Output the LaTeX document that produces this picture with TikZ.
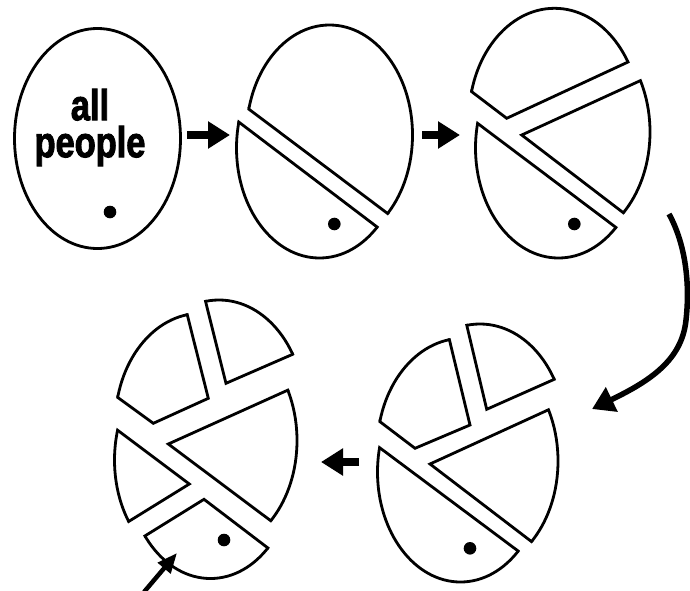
\documentclass[tikz,border=0pt]{standalone}
\usepackage{fontspec}
\setmainfont{Liberation Sans}
\newfontfamily\heavyfont{Liberation Sans Bold}[FakeBold=2.5]
\usetikzlibrary{arrows.meta}
% #1 cx, #2 cy, #3 rx, #4 ry, #5 clip polygon
\newcommand\eggpiece[5]{%
  \begin{scope}
    \clip #5;
    \draw (#1,#2) ellipse [x radius=#3pt, y radius=#4pt];
  \end{scope}
  \begin{scope}
    \clip (#1,#2) ellipse [x radius=#3pt+1.4pt, y radius=#4pt+1.4pt];
    \draw #5;
  \end{scope}}
\tikzset{
  outline/.style={line width=2.8pt, line join=miter},
  fatarrow/.style={line width=7.5pt, -{Triangle[length=22pt,width=26pt]}},
  bentarrow/.style={line width=5.5pt, -{Triangle[length=22pt,width=26pt]}},
  thinarrow/.style={line width=4.5pt, -{Triangle[length=20pt,width=16pt]}},
  dotmark/.style={fill=black},
  bigword/.style={align=center, font=\heavyfont\fontsize{43}{37}\selectfont, inner sep=0pt}
}
\begin{document}
\begin{tikzpicture}[x=1pt, y=-1pt, outline]
\useasboundingbox (0,0) rectangle (690,590);
\fill[white] (0,0) rectangle (690,590);

% ---- egg 1
\draw (97.5,138.5) ellipse [x radius=83pt, y radius=110pt];
\node[bigword] (words) at (90,127.5) {\scalebox{0.8}[1]{all}\\\scalebox{0.8}[1]{people}};
\fill[dotmark] (110,212) circle (6.3pt);

% ---- egg 2
\eggpiece{329.5}{135}{83}{110}{(200,72.4) -- (450,260.4) -- (450,0) -- (200,0) -- cycle}
\eggpiece{319.5}{148}{83}{110}{(200,92.6) -- (450,282.3) -- (450,300) -- (200,300) -- cycle}
\fill[dotmark] (334.3,224) circle (6.3pt);

% ---- egg 3
\eggpiece{558.5}{148}{83}{110}{(440,95.1) -- (690,283.1) -- (690,300) -- (440,300) -- cycle}
\eggpiece{567}{132}{83}{110}{(521.7,135) -- (700,53.3) -- (700,271.4) -- cycle}
\eggpiece{554.5}{118.3}{85.5}{110}{(440,67.6) -- (506.7,118.3) -- (700,28.6) -- (700,-20) -- (440,-20) -- cycle}
\fill[dotmark] (574.3,224) circle (6.3pt);

% ---- egg 5 (lower right)
\eggpiece{460.5}{472}{83}{110}{(340,418.1) -- (600,612.1) -- (600,620) -- (340,620) -- cycle}
\eggpiece{475}{461}{83}{110}{(430,464) -- (620,377) -- (620,609.2) -- cycle}
\eggpiece{462.8}{448.3}{85.5}{110}{(340,391.3) -- (415,448.3) -- (470,425) -- (439.8,300) -- (340,300) -- cycle}
\eggpiece{480}{434}{85.5}{110}{(458.4,290) -- (486.7,409.3) -- (620,350.1) -- (620,290) -- cycle}
\fill[dotmark] (470,548.3) circle (6.3pt);

% ---- egg 4 (lower left)
\eggpiece{200.8}{423.3}{85.5}{110}{(80,370) -- (153.3,423.3) -- (208.3,398.3) -- (178.5,280) -- (80,280) -- cycle}
\eggpiece{219}{410}{85.5}{110}{(197.7,270) -- (226,383.3) -- (340,333.7) -- (340,270) -- cycle}
\eggpiece{214}{440.5}{83}{110}{(168.3,444) -- (340,366.6) -- (340,572.6) -- cycle}
\eggpiece{197.5}{460}{83}{110}{(60,387) -- (189.3,484) -- (60,563.9) -- cycle}
\eggpiece{210.5}{468.5}{83}{110}{(80,576.2) -- (204,499.3) -- (340,602.9) -- (340,620) -- (80,620) -- cycle}
\fill[dotmark] (224,540) circle (6.3pt);

% ---- arrows
\coordinate (a1s) at (187,135);  \coordinate (a1e) at (230,135);
\coordinate (a2s) at (422,135);  \coordinate (a2e) at (460,135);
\coordinate (a3s) at (359,462);  \coordinate (a3e) at (321,462);
\coordinate (cs) at (669,214);   \coordinate (cm) at (686,320);  \coordinate (ce) at (592,409);
\coordinate (ss) at (144,592);   \coordinate (se) at (177,553);
\draw[fatarrow] (a1s) -- (a1e);
\draw[fatarrow] (a2s) -- (a2e);
\draw[fatarrow] (a3s) -- (a3e);
\draw[bentarrow] (cs) .. controls (686,245) and (690,285) .. (cm)
   .. controls (682,360) and (650,381) .. (ce);
\draw[thinarrow] (ss) -- (se);
\end{tikzpicture}
\end{document}
